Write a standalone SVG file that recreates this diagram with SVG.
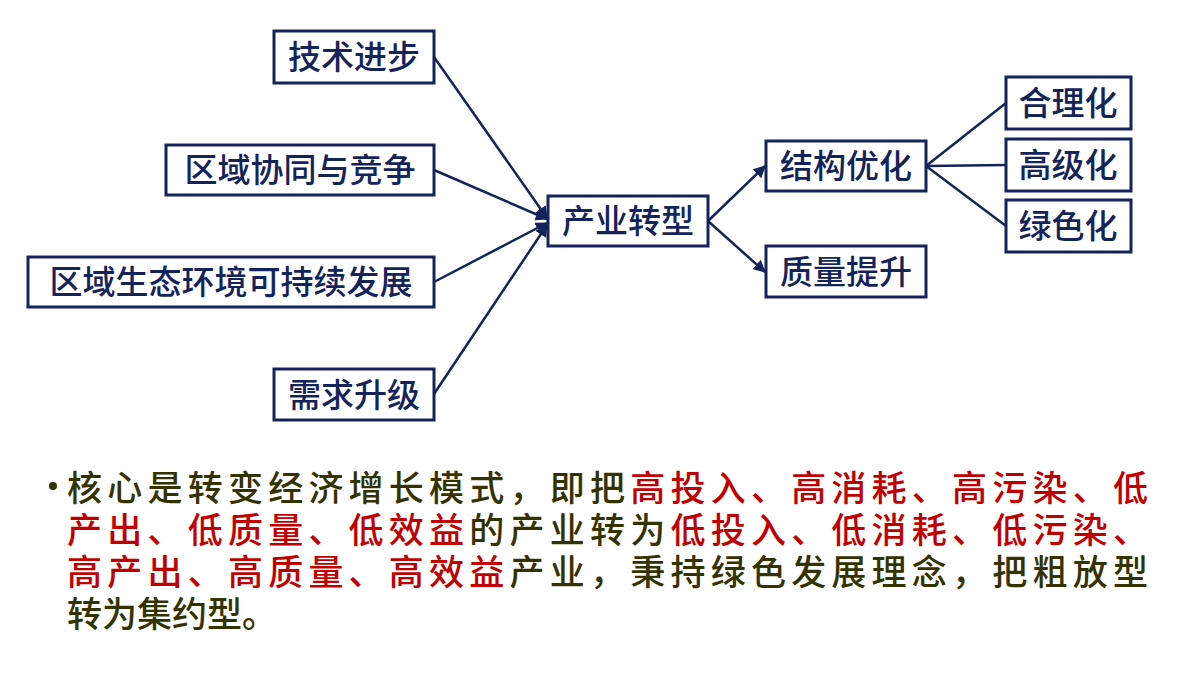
<svg xmlns="http://www.w3.org/2000/svg" width="1200" height="675" viewBox="0 0 1200 675">
<style>
.b{fill:#fff;stroke:#14245a;stroke-width:3}
.t{font-family:"Noto Sans CJK SC",sans-serif;font-size:33px;font-weight:500;fill:#14245a;text-anchor:middle}
.c{stroke:#14245a;stroke-width:2.5;fill:none}
.p{font-family:"Noto Sans CJK SC",sans-serif;font-size:35px;font-weight:500;fill:#333300}
.r{fill:#c00000}
</style>
<defs><marker id="a" viewBox="0 0 10 10" refX="9" refY="5" markerWidth="5" markerHeight="5" orient="auto"><path d="M0,0L10,5L0,10z" fill="#14245a"/></marker></defs>
<g id="connectors">
<line class="c" x1="434" y1="57" x2="547" y2="218" marker-end="url(#a)"/>
<line class="c" x1="434" y1="170" x2="547" y2="219" marker-end="url(#a)"/>
<line class="c" x1="434" y1="282" x2="547" y2="223" marker-end="url(#a)"/>
<line class="c" x1="434" y1="394" x2="547" y2="225" marker-end="url(#a)"/>
<line class="c" x1="708" y1="221" x2="765" y2="166" marker-end="url(#a)"/>
<line class="c" x1="708" y1="221" x2="765" y2="272" marker-end="url(#a)"/>
<line class="c" x1="926" y1="166" x2="1006" y2="103"/>
<line class="c" x1="926" y1="166" x2="1006" y2="165"/>
<line class="c" x1="926" y1="166" x2="1006" y2="226"/>
</g>
<g id="n1"><rect class="b" x="274" y="31" width="160" height="52"/><text class="t" x="354" y="69">技术进步</text></g>
<g id="n2"><rect class="b" x="166" y="145" width="268" height="50"/><text class="t" x="300" y="182">区域协同与竞争</text></g>
<g id="n3"><rect class="b" x="28" y="257" width="406" height="50"/><text class="t" x="231" y="294">区域生态环境可持续发展</text></g>
<g id="n4"><rect class="b" x="274" y="369" width="160" height="51"/><text class="t" x="354" y="407">需求升级</text></g>
<g id="n5"><rect class="b" x="548" y="196" width="160" height="50"/><text class="t" x="628" y="233">产业转型</text></g>
<g id="n6"><rect class="b" x="766" y="141" width="160" height="50"/><text class="t" x="846" y="178">结构优化</text></g>
<g id="n7"><rect class="b" x="766" y="246" width="160" height="51"/><text class="t" x="846" y="284">质量提升</text></g>
<g id="n8"><rect class="b" x="1006" y="77" width="125" height="52"/><text class="t" x="1068" y="115">合理化</text></g>
<g id="n9"><rect class="b" x="1006" y="139" width="125" height="52"/><text class="t" x="1068" y="177">高级化</text></g>
<g id="n10"><rect class="b" x="1006" y="200" width="125" height="52"/><text class="t" x="1068" y="238">绿色化</text></g>
<circle cx="53" cy="486" r="4" fill="#333300"/>
<text class="p" x="67" y="501" textLength="1081" lengthAdjust="spacing">核心是转变经济增长模式，即把<tspan class="r">高投入、高消耗、高污染、低</tspan></text>
<text class="p" x="67" y="543" textLength="1081" lengthAdjust="spacing"><tspan class="r">产出、低质量、低效益</tspan>的产业转为<tspan class="r">低投入、低消耗、低污染、</tspan></text>
<text class="p" x="67" y="585" textLength="1081" lengthAdjust="spacing"><tspan class="r">高产出、高质量、高效益</tspan>产业，秉持绿色发展理念，把粗放型</text>
<text class="p" x="67" y="627">转为集约型。</text>
</svg>
